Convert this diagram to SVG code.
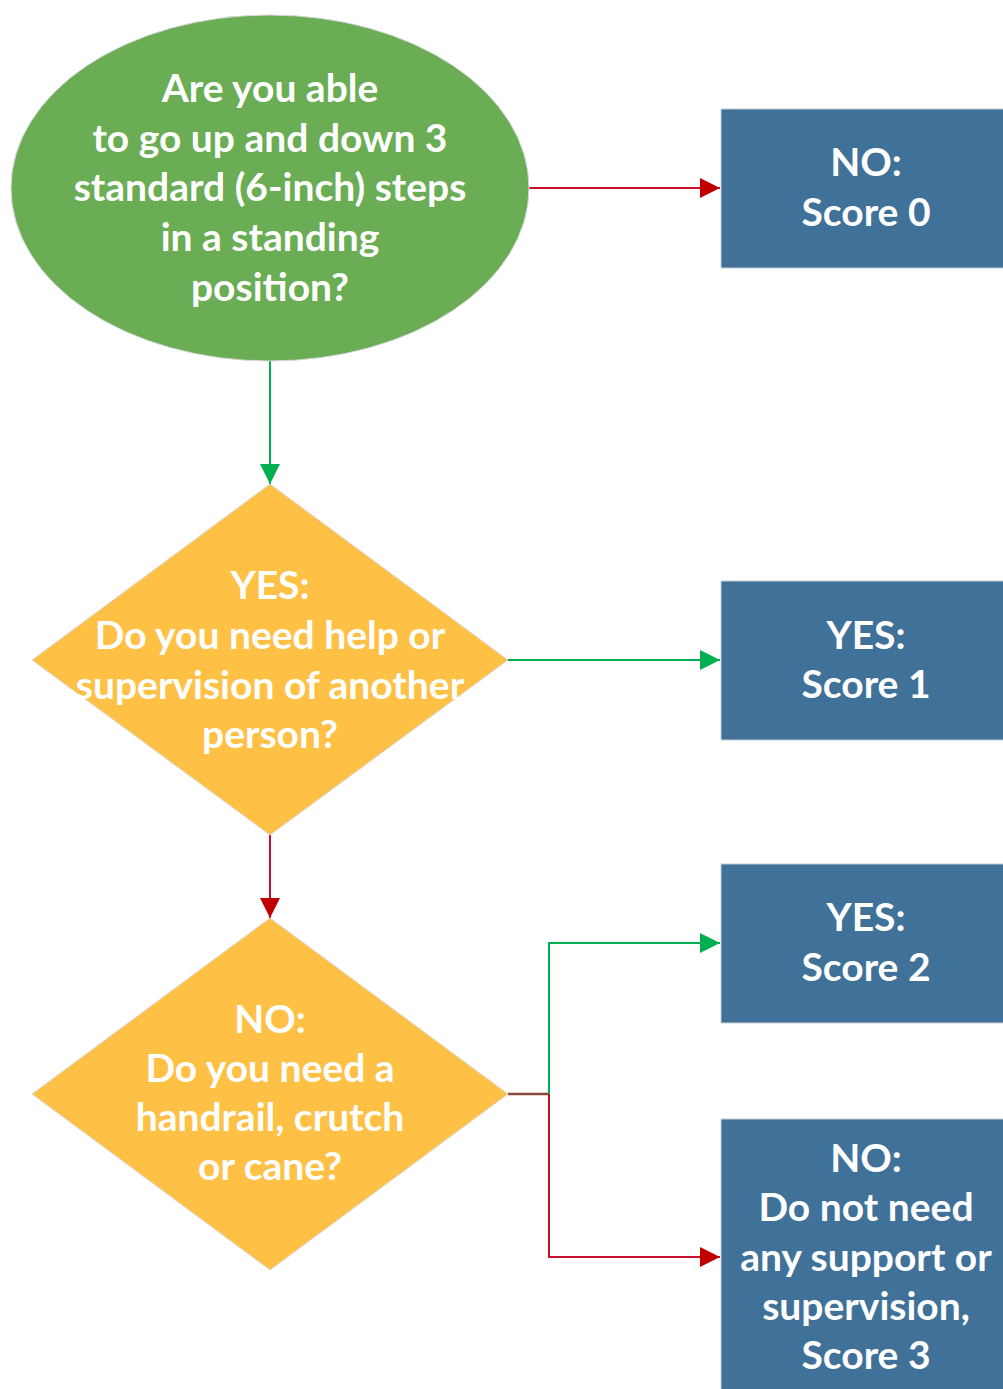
<svg xmlns="http://www.w3.org/2000/svg" width="1003" height="1389" viewBox="0 0 1003 1389">
<defs>
<style>
.t{font-family:Lato,"Liberation Sans",sans-serif;font-weight:bold;font-size:39px;fill:#fff;text-anchor:middle}
.box{fill:#3F7199;stroke:#C8CDD3;stroke-width:1}
.dia{fill:#FFC145;stroke:#D8D8D8;stroke-width:1}
.red{stroke:#C8102E;stroke-width:2;fill:none}
.grn{stroke:#00B050;stroke-width:2;fill:none}
.brn{stroke:#8B4A3A;stroke-width:2.5;fill:none}
</style>
<marker id="ar" markerWidth="20" markerHeight="20" refX="20" refY="10" markerUnits="userSpaceOnUse" orient="auto"><path d="M0,0 L20,10 L0,20 Z" fill="#C00000"/></marker>
<marker id="ag" markerWidth="20" markerHeight="20" refX="20" refY="10" markerUnits="userSpaceOnUse" orient="auto"><path d="M0,0 L20,10 L0,20 Z" fill="#00B050"/></marker>
</defs>
<rect width="1003" height="1389" fill="#fff"/>
<g id="connectors">
<line class="red" x1="529" y1="188" x2="720" y2="188" marker-end="url(#ar)"/>
<line class="grn" x1="270" y1="361" x2="270" y2="484" marker-end="url(#ag)"/>
<line class="grn" x1="508" y1="660" x2="720" y2="660" marker-end="url(#ag)"/>
<line class="red" x1="270" y1="835" x2="270" y2="918" marker-end="url(#ar)"/>
<line class="brn" x1="508" y1="1094" x2="549" y2="1094"/>
<polyline class="grn" points="549,1094 549,943 720,943" marker-end="url(#ag)"/>
<polyline class="red" points="549,1094 549,1257 720,1257" marker-end="url(#ar)"/>
</g>
<g id="start">
<ellipse cx="270" cy="188" rx="259" ry="173" fill="#6AAD55" stroke="#D6D6D6" stroke-width="1"/>
<text class="t" x="270" y="102">Are you able</text>
<text class="t" x="270" y="152">to go up and down 3</text>
<text class="t" x="270" y="201">standard (6-inch) steps</text>
<text class="t" x="270" y="251">in a standing</text>
<text class="t" x="270" y="301">position?</text>
</g>
<g id="score0">
<rect class="box" x="721" y="109" width="290" height="159"/>
<text class="t" x="866" y="176">NO:</text>
<text class="t" x="866" y="226">Score 0</text>
</g>
<g id="q2">
<polygon class="dia" points="270,484 508,660 270,835 32,660"/>
<text class="t" x="270" y="599">YES:</text>
<text class="t" x="270" y="649">Do you need help or</text>
<text class="t" x="270" y="699">supervision of another</text>
<text class="t" x="270" y="748">person?</text>
</g>
<g id="score1">
<rect class="box" x="721" y="581" width="290" height="159"/>
<text class="t" x="866" y="649">YES:</text>
<text class="t" x="866" y="698">Score 1</text>
</g>
<g id="q3">
<polygon class="dia" points="270,918 508,1094 270,1270 32,1094"/>
<text class="t" x="270" y="1033">NO:</text>
<text class="t" x="270" y="1082">Do you need a</text>
<text class="t" x="270" y="1131">handrail, crutch</text>
<text class="t" x="270" y="1180">or cane?</text>
</g>
<g id="score2">
<rect class="box" x="721" y="864" width="290" height="159"/>
<text class="t" x="866" y="931">YES:</text>
<text class="t" x="866" y="981">Score 2</text>
</g>
<g id="score3">
<rect class="box" x="721" y="1119" width="290" height="290"/>
<text class="t" x="866" y="1172">NO:</text>
<text class="t" x="866" y="1221">Do not need</text>
<text class="t" x="866" y="1271">any support or</text>
<text class="t" x="866" y="1320">supervision,</text>
<text class="t" x="866" y="1369">Score 3</text>
</g>
</svg>
